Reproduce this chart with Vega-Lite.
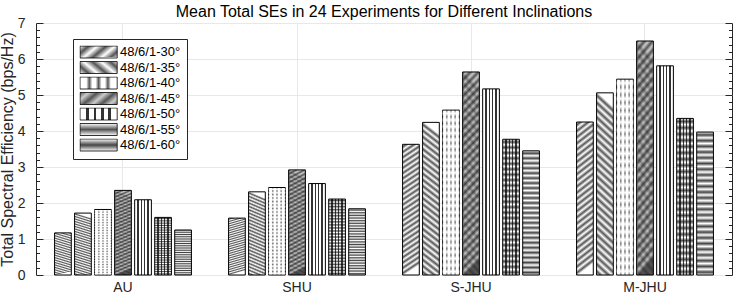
{
"$schema":"https://vega.github.io/schema/vega-lite/v6.json",
"width":696,"height":252,
"autosize":"none",
"padding":{"left":36,"top":23,"right":15,"bottom":24},
"config":{"font":"Liberation Sans","view":{"stroke":"#262626","strokeWidth":1}},
"title":{"text":"Mean Total SEs in 24 Experiments for Different Inclinations","fontSize":16,"fontWeight":"normal","color":"#000","offset":-4,"frame":"group"},
"data":{"values":[
{"site":"AU","series":"48/6/1-30°","v":1.17},{"site":"AU","series":"48/6/1-35°","v":1.72},{"site":"AU","series":"48/6/1-40°","v":1.82},{"site":"AU","series":"48/6/1-45°","v":2.35},{"site":"AU","series":"48/6/1-50°","v":2.09},{"site":"AU","series":"48/6/1-55°","v":1.60},{"site":"AU","series":"48/6/1-60°","v":1.25},
{"site":"SHU","series":"48/6/1-30°","v":1.58},{"site":"SHU","series":"48/6/1-35°","v":2.31},{"site":"SHU","series":"48/6/1-40°","v":2.43},{"site":"SHU","series":"48/6/1-45°","v":2.92},{"site":"SHU","series":"48/6/1-50°","v":2.54},{"site":"SHU","series":"48/6/1-55°","v":2.11},{"site":"SHU","series":"48/6/1-60°","v":1.84},
{"site":"S-JHU","series":"48/6/1-30°","v":3.63},{"site":"S-JHU","series":"48/6/1-35°","v":4.24},{"site":"S-JHU","series":"48/6/1-40°","v":4.58},{"site":"S-JHU","series":"48/6/1-45°","v":5.64},{"site":"S-JHU","series":"48/6/1-50°","v":5.17},{"site":"S-JHU","series":"48/6/1-55°","v":3.77},{"site":"S-JHU","series":"48/6/1-60°","v":3.45},
{"site":"M-JHU","series":"48/6/1-30°","v":4.25},{"site":"M-JHU","series":"48/6/1-35°","v":5.06},{"site":"M-JHU","series":"48/6/1-40°","v":5.44},{"site":"M-JHU","series":"48/6/1-45°","v":6.50},{"site":"M-JHU","series":"48/6/1-50°","v":5.81},{"site":"M-JHU","series":"48/6/1-55°","v":4.35},{"site":"M-JHU","series":"48/6/1-60°","v":3.97}
]},
"encoding":{
 "x":{"field":"site","type":"nominal","sort":["AU","SHU","S-JHU","M-JHU"],"scale":{"paddingInner":0.195,"paddingOuter":0.0975},
      "axis":{"title":null,"labelAngle":0,"labelFontSize":14,"labelColor":"#262626","labelPadding":5,"ticks":false,"domain":false,"grid":true,"gridColor":"#e8e8e8","bandPosition":0.5}},
 "xOffset":{"field":"series","type":"nominal","sort":["48/6/1-30°","48/6/1-35°","48/6/1-40°","48/6/1-45°","48/6/1-50°","48/6/1-55°","48/6/1-60°"],"scale":{"paddingInner":0.165,"paddingOuter":0.08}}
},
"resolve":{"axis":{"y":"independent"}},
"layer":[
{
 "mark":{"type":"bar","stroke":"#000","strokeWidth":1},
 "encoding":{
  "y":{"field":"v","type":"quantitative","scale":{"domain":[0,7],"nice":false},
       "axis":{"orient":"left","values":[0,1,2,3,4,5,6,7],"title":"Total Spectral Efficiency (bps/Hz)","titleFontSize":16,"titleFontWeight":"normal","titleColor":"#262626","titleX":-24,"titleBaseline":"alphabetic","labelFontSize":14,"labelColor":"#262626","labelPadding":11,"ticks":false,"domain":false,"grid":true,"gridColor":"#e8e8e8"}},
  "color":{"field":"series","type":"nominal",
   "scale":{"domain":["48/6/1-30°","48/6/1-35°","48/6/1-40°","48/6/1-45°","48/6/1-50°","48/6/1-55°","48/6/1-60°"],
    "range":[
     {"expr":"{gradient:'linear',x1:0,y1:0,x2:0.085,y2:1,stops:[{offset:0,color:'#fff'},{offset:0.02,color:'#555'},{offset:0.04,color:'#fff'},{offset:0.06,color:'#555'},{offset:0.08,color:'#fff'},{offset:0.1,color:'#555'},{offset:0.12,color:'#fff'},{offset:0.14,color:'#555'},{offset:0.16,color:'#fff'},{offset:0.18,color:'#555'},{offset:0.2,color:'#fff'},{offset:0.22,color:'#555'},{offset:0.24,color:'#fff'},{offset:0.26,color:'#555'},{offset:0.28,color:'#fff'},{offset:0.3,color:'#555'},{offset:0.32,color:'#fff'},{offset:0.34,color:'#555'},{offset:0.36,color:'#fff'},{offset:0.38,color:'#555'},{offset:0.4,color:'#fff'},{offset:0.42,color:'#555'},{offset:0.44,color:'#fff'},{offset:0.46,color:'#555'},{offset:0.48,color:'#fff'},{offset:0.5,color:'#555'},{offset:0.52,color:'#fff'},{offset:0.54,color:'#555'},{offset:0.56,color:'#fff'},{offset:0.58,color:'#555'},{offset:0.6,color:'#fff'},{offset:0.62,color:'#555'},{offset:0.64,color:'#fff'},{offset:0.66,color:'#555'},{offset:0.68,color:'#fff'},{offset:0.7,color:'#555'},{offset:0.72,color:'#fff'},{offset:0.74,color:'#555'},{offset:0.76,color:'#fff'},{offset:0.78,color:'#555'},{offset:0.8,color:'#fff'},{offset:0.82,color:'#555'},{offset:0.84,color:'#fff'},{offset:0.86,color:'#555'},{offset:0.88,color:'#fff'},{offset:0.9,color:'#555'},{offset:0.92,color:'#fff'},{offset:0.94,color:'#555'},{offset:0.96,color:'#fff'},{offset:0.98,color:'#555'},{offset:1,color:'#fff'}]}"},
     {"expr":"{gradient:'linear',x1:0.085,y1:0,x2:0,y2:1,stops:[{offset:0,color:'#fff'},{offset:0.02,color:'#555'},{offset:0.04,color:'#fff'},{offset:0.06,color:'#555'},{offset:0.08,color:'#fff'},{offset:0.1,color:'#555'},{offset:0.12,color:'#fff'},{offset:0.14,color:'#555'},{offset:0.16,color:'#fff'},{offset:0.18,color:'#555'},{offset:0.2,color:'#fff'},{offset:0.22,color:'#555'},{offset:0.24,color:'#fff'},{offset:0.26,color:'#555'},{offset:0.28,color:'#fff'},{offset:0.3,color:'#555'},{offset:0.32,color:'#fff'},{offset:0.34,color:'#555'},{offset:0.36,color:'#fff'},{offset:0.38,color:'#555'},{offset:0.4,color:'#fff'},{offset:0.42,color:'#555'},{offset:0.44,color:'#fff'},{offset:0.46,color:'#555'},{offset:0.48,color:'#fff'},{offset:0.5,color:'#555'},{offset:0.52,color:'#fff'},{offset:0.54,color:'#555'},{offset:0.56,color:'#fff'},{offset:0.58,color:'#555'},{offset:0.6,color:'#fff'},{offset:0.62,color:'#555'},{offset:0.64,color:'#fff'},{offset:0.66,color:'#555'},{offset:0.68,color:'#fff'},{offset:0.7,color:'#555'},{offset:0.72,color:'#fff'},{offset:0.74,color:'#555'},{offset:0.76,color:'#fff'},{offset:0.78,color:'#555'},{offset:0.8,color:'#fff'},{offset:0.82,color:'#555'},{offset:0.84,color:'#fff'},{offset:0.86,color:'#555'},{offset:0.88,color:'#fff'},{offset:0.9,color:'#555'},{offset:0.92,color:'#fff'},{offset:0.94,color:'#555'},{offset:0.96,color:'#fff'},{offset:0.98,color:'#555'},{offset:1,color:'#fff'}]}"},
     {"expr":"{gradient:'linear',x1:0,y1:0,x2:1,y2:0,stops:[{offset:0,color:'#fff'},{offset:0.17,color:'#fff'},{offset:0.25,color:'#555'},{offset:0.33,color:'#fff'},{offset:0.42,color:'#fff'},{offset:0.5,color:'#555'},{offset:0.58,color:'#fff'},{offset:0.67,color:'#fff'},{offset:0.75,color:'#555'},{offset:0.83,color:'#fff'},{offset:1,color:'#fff'}]}"},
     {"expr":"{gradient:'linear',x1:0,y1:0,x2:0.085,y2:1,stops:[{offset:0,color:'#555'},{offset:0.02,color:'#ccc'},{offset:0.04,color:'#555'},{offset:0.06,color:'#ccc'},{offset:0.08,color:'#555'},{offset:0.1,color:'#ccc'},{offset:0.12,color:'#555'},{offset:0.14,color:'#ccc'},{offset:0.16,color:'#555'},{offset:0.18,color:'#ccc'},{offset:0.2,color:'#555'},{offset:0.22,color:'#ccc'},{offset:0.24,color:'#555'},{offset:0.26,color:'#ccc'},{offset:0.28,color:'#555'},{offset:0.3,color:'#ccc'},{offset:0.32,color:'#555'},{offset:0.34,color:'#ccc'},{offset:0.36,color:'#555'},{offset:0.38,color:'#ccc'},{offset:0.4,color:'#555'},{offset:0.42,color:'#ccc'},{offset:0.44,color:'#555'},{offset:0.46,color:'#ccc'},{offset:0.48,color:'#555'},{offset:0.5,color:'#ccc'},{offset:0.52,color:'#555'},{offset:0.54,color:'#ccc'},{offset:0.56,color:'#555'},{offset:0.58,color:'#ccc'},{offset:0.6,color:'#555'},{offset:0.62,color:'#ccc'},{offset:0.64,color:'#555'},{offset:0.66,color:'#ccc'},{offset:0.68,color:'#555'},{offset:0.7,color:'#ccc'},{offset:0.72,color:'#555'},{offset:0.74,color:'#ccc'},{offset:0.76,color:'#555'},{offset:0.78,color:'#ccc'},{offset:0.8,color:'#555'},{offset:0.82,color:'#ccc'},{offset:0.84,color:'#555'},{offset:0.86,color:'#ccc'},{offset:0.88,color:'#555'},{offset:0.9,color:'#ccc'},{offset:0.92,color:'#555'},{offset:0.94,color:'#ccc'},{offset:0.96,color:'#555'},{offset:0.98,color:'#ccc'},{offset:1,color:'#555'}]}"},
     {"expr":"{gradient:'linear',x1:0,y1:0,x2:1,y2:0,stops:[{offset:0,color:'#fff'},{offset:0.165,color:'#fff'},{offset:0.165,color:'#333'},{offset:0.235,color:'#333'},{offset:0.235,color:'#fff'},{offset:0.365,color:'#fff'},{offset:0.365,color:'#333'},{offset:0.435,color:'#333'},{offset:0.435,color:'#fff'},{offset:0.565,color:'#fff'},{offset:0.565,color:'#333'},{offset:0.635,color:'#333'},{offset:0.635,color:'#fff'},{offset:0.765,color:'#fff'},{offset:0.765,color:'#333'},{offset:0.835,color:'#333'},{offset:0.835,color:'#fff'},{offset:1,color:'#fff'}]}"},
     {"expr":"{gradient:'linear',x1:0,y1:0,x2:0,y2:1,stops:[{offset:0,color:'#fff'},{offset:0.02,color:'#555'},{offset:0.04,color:'#fff'},{offset:0.06,color:'#555'},{offset:0.08,color:'#fff'},{offset:0.1,color:'#555'},{offset:0.12,color:'#fff'},{offset:0.14,color:'#555'},{offset:0.16,color:'#fff'},{offset:0.18,color:'#555'},{offset:0.2,color:'#fff'},{offset:0.22,color:'#555'},{offset:0.24,color:'#fff'},{offset:0.26,color:'#555'},{offset:0.28,color:'#fff'},{offset:0.3,color:'#555'},{offset:0.32,color:'#fff'},{offset:0.34,color:'#555'},{offset:0.36,color:'#fff'},{offset:0.38,color:'#555'},{offset:0.4,color:'#fff'},{offset:0.42,color:'#555'},{offset:0.44,color:'#fff'},{offset:0.46,color:'#555'},{offset:0.48,color:'#fff'},{offset:0.5,color:'#555'},{offset:0.52,color:'#fff'},{offset:0.54,color:'#555'},{offset:0.56,color:'#fff'},{offset:0.58,color:'#555'},{offset:0.6,color:'#fff'},{offset:0.62,color:'#555'},{offset:0.64,color:'#fff'},{offset:0.66,color:'#555'},{offset:0.68,color:'#fff'},{offset:0.7,color:'#555'},{offset:0.72,color:'#fff'},{offset:0.74,color:'#555'},{offset:0.76,color:'#fff'},{offset:0.78,color:'#555'},{offset:0.8,color:'#fff'},{offset:0.82,color:'#555'},{offset:0.84,color:'#fff'},{offset:0.86,color:'#555'},{offset:0.88,color:'#fff'},{offset:0.9,color:'#555'},{offset:0.92,color:'#fff'},{offset:0.94,color:'#555'},{offset:0.96,color:'#fff'},{offset:0.98,color:'#555'},{offset:1,color:'#fff'}]}"},
     {"expr":"{gradient:'linear',x1:0,y1:0,x2:0,y2:1,stops:[{offset:0,color:'#fff'},{offset:0.02,color:'#444'},{offset:0.04,color:'#fff'},{offset:0.06,color:'#444'},{offset:0.08,color:'#fff'},{offset:0.1,color:'#444'},{offset:0.12,color:'#fff'},{offset:0.14,color:'#444'},{offset:0.16,color:'#fff'},{offset:0.18,color:'#444'},{offset:0.2,color:'#fff'},{offset:0.22,color:'#444'},{offset:0.24,color:'#fff'},{offset:0.26,color:'#444'},{offset:0.28,color:'#fff'},{offset:0.3,color:'#444'},{offset:0.32,color:'#fff'},{offset:0.34,color:'#444'},{offset:0.36,color:'#fff'},{offset:0.38,color:'#444'},{offset:0.4,color:'#fff'},{offset:0.42,color:'#444'},{offset:0.44,color:'#fff'},{offset:0.46,color:'#444'},{offset:0.48,color:'#fff'},{offset:0.5,color:'#444'},{offset:0.52,color:'#fff'},{offset:0.54,color:'#444'},{offset:0.56,color:'#fff'},{offset:0.58,color:'#444'},{offset:0.6,color:'#fff'},{offset:0.62,color:'#444'},{offset:0.64,color:'#fff'},{offset:0.66,color:'#444'},{offset:0.68,color:'#fff'},{offset:0.7,color:'#444'},{offset:0.72,color:'#fff'},{offset:0.74,color:'#444'},{offset:0.76,color:'#fff'},{offset:0.78,color:'#444'},{offset:0.8,color:'#fff'},{offset:0.82,color:'#444'},{offset:0.84,color:'#fff'},{offset:0.86,color:'#444'},{offset:0.88,color:'#fff'},{offset:0.9,color:'#444'},{offset:0.92,color:'#fff'},{offset:0.94,color:'#444'},{offset:0.96,color:'#fff'},{offset:0.98,color:'#444'},{offset:1,color:'#fff'}]}"}
    ]},
   "legend":{"orient":"none","legendX":37,"legendY":16,"title":null,"symbolType":"M-1,-1H5.2V1H-1Z","symbolSize":144,"labelOffset":27.5,"labelFontSize":13,"labelColor":"#000","rowPadding":1.5,"clipHeight":13,"padding":6.5,"strokeColor":"#262626","fillColor":"#fff","symbolStrokeColor":"#000","symbolStrokeWidth":0.8,"labelLimit":0}}
 }
},
{
 "mark":{"type":"bar","strokeWidth":0},
 "encoding":{
  "y":{"field":"v","type":"quantitative","axis":{"orient":"right","offset":-696,"values":[0,0.2,0.4,0.6,0.8,1,1.2,1.4,1.6,1.8,2,2.2,2.4,2.6,2.8,3,3.2,3.4,3.6,3.8,4,4.2,4.4,4.6,4.8,5,5.2,5.4,5.6,5.8,6,6.2,6.4,6.6,6.8,7],"labels":false,"domain":false,"grid":false,"title":null,"tickColor":"#262626","tickSize":{"condition":{"test":"datum.value % 1 === 0","value":7},"value":3.5}}},
  "fill":{"field":"series","type":"nominal","legend":null,
   "scale":{"domain":["48/6/1-30°","48/6/1-35°","48/6/1-40°","48/6/1-45°","48/6/1-50°","48/6/1-55°","48/6/1-60°"],
    "range":[
     "transparent","transparent",
     {"expr":"{gradient:'linear',x1:0,y1:0,x2:0,y2:1,stops:[{offset:0,color:'rgba(255,255,255,0)'},{offset:0.02,color:'#fff'},{offset:0.04,color:'rgba(255,255,255,0)'},{offset:0.06,color:'#fff'},{offset:0.08,color:'rgba(255,255,255,0)'},{offset:0.1,color:'#fff'},{offset:0.12,color:'rgba(255,255,255,0)'},{offset:0.14,color:'#fff'},{offset:0.16,color:'rgba(255,255,255,0)'},{offset:0.18,color:'#fff'},{offset:0.2,color:'rgba(255,255,255,0)'},{offset:0.22,color:'#fff'},{offset:0.24,color:'rgba(255,255,255,0)'},{offset:0.26,color:'#fff'},{offset:0.28,color:'rgba(255,255,255,0)'},{offset:0.3,color:'#fff'},{offset:0.32,color:'rgba(255,255,255,0)'},{offset:0.34,color:'#fff'},{offset:0.36,color:'rgba(255,255,255,0)'},{offset:0.38,color:'#fff'},{offset:0.4,color:'rgba(255,255,255,0)'},{offset:0.42,color:'#fff'},{offset:0.44,color:'rgba(255,255,255,0)'},{offset:0.46,color:'#fff'},{offset:0.48,color:'rgba(255,255,255,0)'},{offset:0.5,color:'#fff'},{offset:0.52,color:'rgba(255,255,255,0)'},{offset:0.54,color:'#fff'},{offset:0.56,color:'rgba(255,255,255,0)'},{offset:0.58,color:'#fff'},{offset:0.6,color:'rgba(255,255,255,0)'},{offset:0.62,color:'#fff'},{offset:0.64,color:'rgba(255,255,255,0)'},{offset:0.66,color:'#fff'},{offset:0.68,color:'rgba(255,255,255,0)'},{offset:0.7,color:'#fff'},{offset:0.72,color:'rgba(255,255,255,0)'},{offset:0.74,color:'#fff'},{offset:0.76,color:'rgba(255,255,255,0)'},{offset:0.78,color:'#fff'},{offset:0.8,color:'rgba(255,255,255,0)'},{offset:0.82,color:'#fff'},{offset:0.84,color:'rgba(255,255,255,0)'},{offset:0.86,color:'#fff'},{offset:0.88,color:'rgba(255,255,255,0)'},{offset:0.9,color:'#fff'},{offset:0.92,color:'rgba(255,255,255,0)'},{offset:0.94,color:'#fff'},{offset:0.96,color:'rgba(255,255,255,0)'},{offset:0.98,color:'#fff'},{offset:1,color:'rgba(255,255,255,0)'}]}"},
     {"expr":"{gradient:'linear',x1:0.085,y1:0,x2:0,y2:1,stops:[{offset:0,color:'rgba(0,0,0,0)'},{offset:0.02,color:'rgba(0,0,0,0.3)'},{offset:0.04,color:'rgba(0,0,0,0)'},{offset:0.06,color:'rgba(0,0,0,0.3)'},{offset:0.08,color:'rgba(0,0,0,0)'},{offset:0.1,color:'rgba(0,0,0,0.3)'},{offset:0.12,color:'rgba(0,0,0,0)'},{offset:0.14,color:'rgba(0,0,0,0.3)'},{offset:0.16,color:'rgba(0,0,0,0)'},{offset:0.18,color:'rgba(0,0,0,0.3)'},{offset:0.2,color:'rgba(0,0,0,0)'},{offset:0.22,color:'rgba(0,0,0,0.3)'},{offset:0.24,color:'rgba(0,0,0,0)'},{offset:0.26,color:'rgba(0,0,0,0.3)'},{offset:0.28,color:'rgba(0,0,0,0)'},{offset:0.3,color:'rgba(0,0,0,0.3)'},{offset:0.32,color:'rgba(0,0,0,0)'},{offset:0.34,color:'rgba(0,0,0,0.3)'},{offset:0.36,color:'rgba(0,0,0,0)'},{offset:0.38,color:'rgba(0,0,0,0.3)'},{offset:0.4,color:'rgba(0,0,0,0)'},{offset:0.42,color:'rgba(0,0,0,0.3)'},{offset:0.44,color:'rgba(0,0,0,0)'},{offset:0.46,color:'rgba(0,0,0,0.3)'},{offset:0.48,color:'rgba(0,0,0,0)'},{offset:0.5,color:'rgba(0,0,0,0.3)'},{offset:0.52,color:'rgba(0,0,0,0)'},{offset:0.54,color:'rgba(0,0,0,0.3)'},{offset:0.56,color:'rgba(0,0,0,0)'},{offset:0.58,color:'rgba(0,0,0,0.3)'},{offset:0.6,color:'rgba(0,0,0,0)'},{offset:0.62,color:'rgba(0,0,0,0.3)'},{offset:0.64,color:'rgba(0,0,0,0)'},{offset:0.66,color:'rgba(0,0,0,0.3)'},{offset:0.68,color:'rgba(0,0,0,0)'},{offset:0.7,color:'rgba(0,0,0,0.3)'},{offset:0.72,color:'rgba(0,0,0,0)'},{offset:0.74,color:'rgba(0,0,0,0.3)'},{offset:0.76,color:'rgba(0,0,0,0)'},{offset:0.78,color:'rgba(0,0,0,0.3)'},{offset:0.8,color:'rgba(0,0,0,0)'},{offset:0.82,color:'rgba(0,0,0,0.3)'},{offset:0.84,color:'rgba(0,0,0,0)'},{offset:0.86,color:'rgba(0,0,0,0.3)'},{offset:0.88,color:'rgba(0,0,0,0)'},{offset:0.9,color:'rgba(0,0,0,0.3)'},{offset:0.92,color:'rgba(0,0,0,0)'},{offset:0.94,color:'rgba(0,0,0,0.3)'},{offset:0.96,color:'rgba(0,0,0,0)'},{offset:0.98,color:'rgba(0,0,0,0.3)'},{offset:1,color:'rgba(0,0,0,0)'}]}"},
     "transparent",
     {"expr":"{gradient:'linear',x1:0,y1:0,x2:1,y2:0,stops:[{offset:0,color:'rgba(0,0,0,0)'},{offset:0.165,color:'rgba(0,0,0,0)'},{offset:0.165,color:'rgba(0,0,0,0.75)'},{offset:0.235,color:'rgba(0,0,0,0.75)'},{offset:0.235,color:'rgba(0,0,0,0)'},{offset:0.365,color:'rgba(0,0,0,0)'},{offset:0.365,color:'rgba(0,0,0,0.75)'},{offset:0.435,color:'rgba(0,0,0,0.75)'},{offset:0.435,color:'rgba(0,0,0,0)'},{offset:0.565,color:'rgba(0,0,0,0)'},{offset:0.565,color:'rgba(0,0,0,0.75)'},{offset:0.635,color:'rgba(0,0,0,0.75)'},{offset:0.635,color:'rgba(0,0,0,0)'},{offset:0.765,color:'rgba(0,0,0,0)'},{offset:0.765,color:'rgba(0,0,0,0.75)'},{offset:0.835,color:'rgba(0,0,0,0.75)'},{offset:0.835,color:'rgba(0,0,0,0)'},{offset:1,color:'rgba(0,0,0,0)'}]}"},
     "transparent"
    ]}}
 }
},
{
 "mark":{"type":"bar","opacity":0},
 "encoding":{
  "y":{"field":"v","type":"quantitative","axis":{"orient":"left","offset":-696,"values":[0,0.2,0.4,0.6,0.8,1,1.2,1.4,1.6,1.8,2,2.2,2.4,2.6,2.8,3,3.2,3.4,3.6,3.8,4,4.2,4.4,4.6,4.8,5,5.2,5.4,5.6,5.8,6,6.2,6.4,6.6,6.8,7],"labels":false,"domain":false,"grid":false,"title":null,"tickColor":"#262626","tickSize":{"condition":{"test":"datum.value % 1 === 0","value":7},"value":3.5}}}
 }
}
]
}
